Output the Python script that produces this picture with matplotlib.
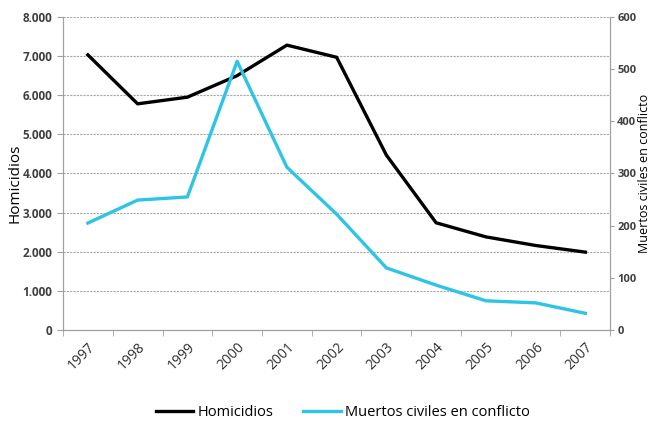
import numpy as np
import matplotlib
matplotlib.use("Agg")
import matplotlib.pyplot as plt
from matplotlib.ticker import FuncFormatter

# datos
anios = ["1997", "1998", "1999", "2000", "2001", "2002", "2003", "2004", "2005", "2006", "2007"]
homicidios = [7030, 5780, 5950, 6500, 7280, 6970, 4470, 2740, 2380, 2160, 1990]
muertos_civiles = [205, 249, 255, 515, 312, 222, 119, 86, 56, 52, 32]

plt.rcParams["font.family"] = ["Open Sans", "DejaVu Sans"]

fig = plt.figure(figsize=(6.53, 4.24), dpi=100)
ax = fig.add_axes([0.0965, 0.2217, 0.838, 0.7383])
ax2 = ax.twinx()

x = np.arange(len(anios))
l1, = ax.plot(x, homicidios, color="black", lw=2.4, label="Homicidios")
l2, = ax2.plot(x, muertos_civiles, color="#2ec4e6", lw=2.4, label="Muertos civiles en conflicto")

ax.set_xlim(-0.5, len(anios) - 0.5)
ax.set_ylim(0, 8000)
ax2.set_ylim(0, 600)
ax.set_yticks(np.arange(0, 8001, 1000))
ax2.set_yticks(np.arange(0, 601, 100))
ax.yaxis.set_major_formatter(FuncFormatter(lambda v, p: f"{int(v):,}".replace(",", ".")))

ax.set_xticks(x)
ax.set_xticklabels(anios, rotation=45, ha="right", rotation_mode="anchor")
ax.set_xticks(np.arange(-0.5, len(anios)), minor=True)
ax.tick_params(axis="x", which="major", length=0, pad=7, labelsize=10, colors="#303030")
ax.tick_params(axis="x", which="minor", length=4, color="#a0a0a0")
ax.tick_params(axis="y", length=4, color="#a0a0a0", labelsize=8.5, labelcolor="#404040")
ax2.tick_params(axis="y", length=3, pad=2, color="#a0a0a0", labelsize=8, labelcolor="#404040")
for lab in ax.get_yticklabels() + ax2.get_yticklabels():
    lab.set_fontweight("bold")

ax.grid(axis="y", color="#a8a8a8", linestyle=(0, (2, 1)), lw=0.8)
ax.set_axisbelow(True)

for a in (ax, ax2):
    a.spines["top"].set_visible(False)
    a.spines["left"].set_color("#a0a0a0")
    a.spines["right"].set_color("#a0a0a0")
    a.spines["bottom"].set_color("#a0a0a0")

ax.set_ylabel("Homicidios", fontsize=11)
ax.yaxis.set_label_coords(-0.074, 0.47)
ax2.set_ylabel("Muertos civiles en conflicto", fontsize=9)
ax2.yaxis.set_label_coords(1.05, 0.5)

fig.legend([l1, l2], ["Homicidios", "Muertos civiles en conflicto"], loc="center",
           bbox_to_anchor=(0.525, 0.028), ncol=2, frameon=False, fontsize=10.5,
           handlelength=2.6, columnspacing=2.0, handletextpad=0.3)

fig.savefig("out.png", dpi=100)
